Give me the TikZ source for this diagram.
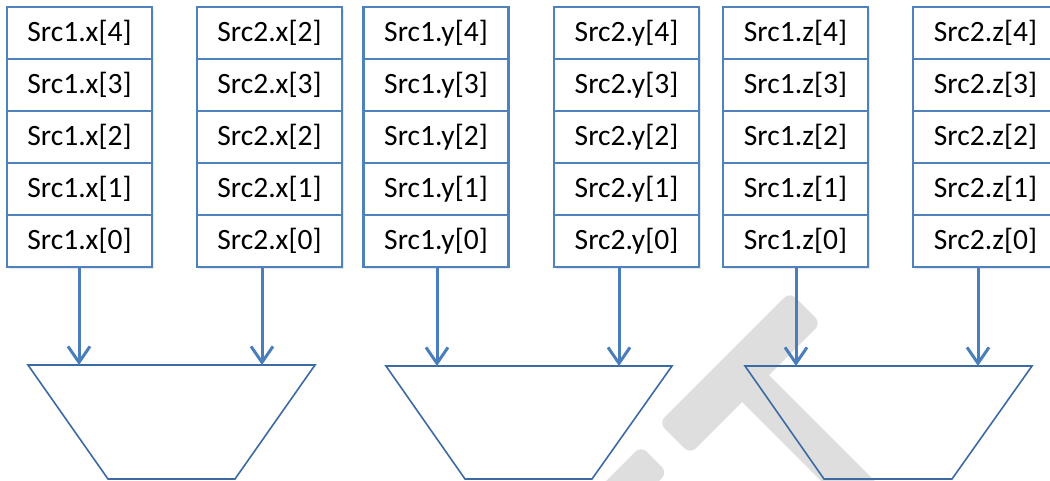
\documentclass[tikz,border=0pt]{standalone}
\usepackage{fontspec}
\setmainfont{Carlito}
\usetikzlibrary{arrows.meta,shadows}
\definecolor{boxblue}{HTML}{4F81BD}
\definecolor{arrblue}{HTML}{4A7EBB}
\definecolor{alublue}{HTML}{3C6AA3}
\definecolor{wmgray}{HTML}{DEDEDE}
\begin{document}
\begin{tikzpicture}[x=1pt,y=-1pt,
  cell/.style={draw=boxblue, line width=2.4pt, fill=white, minimum width=145pt,
    minimum height=52pt, inner sep=0pt, font=\fontsize{29.5}{32}\selectfont,
    drop shadow={shadow xshift=1.5pt, shadow yshift=-1.5pt, opacity=0.18}},
  feed/.style={draw=arrblue, line width=3pt,
    -{Straight Barb[length=16pt,width=22pt]}},
  alu/.style={draw=alublue, line width=1.6pt},
  wmark/.style={fill=wmgray, rounded corners=8pt}]
\useasboundingbox (0,0) rectangle (1050,480);
\clip (0,0) rectangle (1050,480);
% watermark
\fill[wmgray] (726.6,386.4) -- (753.4,359.6) -- (894.4,500.6) -- (867.6,527.4) -- cycle;
\fill[wmark] (659,422.8) -- (690.2,454) -- (821,323.2) -- (789.8,292) -- cycle;
\fill[wmark] (641,446) -- (667.5,472.5) -- (567.5,572.5) -- (541,546) -- cycle;
% register columns
\foreach \c/\cx/\s/\v/\tp in {1/79.5/1/x/4, 2/269.5/2/x/2, 3/436/1/y/4, 4/626.5/2/y/4, 5/795.5/1/z/4, 6/985.5/2/z/4}{
  \node[cell] (c\c r4) at (\cx,33) {Src\s.\v[\tp]};
  \foreach \r/\ry in {3/85,2/137,1/189,0/241}{
    \node[cell] (c\c r\r) at (\cx,\ry) {Src\s.\v[\r]};
  }
}
% ALUs
\draw[alu] (28,365) -- (315,365) -- (235,479) -- (108,479) -- cycle;
\draw[alu] (386,366) -- (672,366) -- (592,479) -- (465,479) -- cycle;
\draw[alu] (745,366) -- (1032,366) -- (952,479) -- (824,479) -- cycle;
\coordinate (in1) at (79,365);
\coordinate (in2) at (262,365);
\coordinate (in3) at (437,366);
\coordinate (in4) at (619,366);
\coordinate (in5) at (796,366);
\coordinate (in6) at (978,366);
\foreach \c in {1,...,6}{
  \draw[feed] (c\c r0.south -| in\c) -- (in\c);
}
\end{tikzpicture}
\end{document}
